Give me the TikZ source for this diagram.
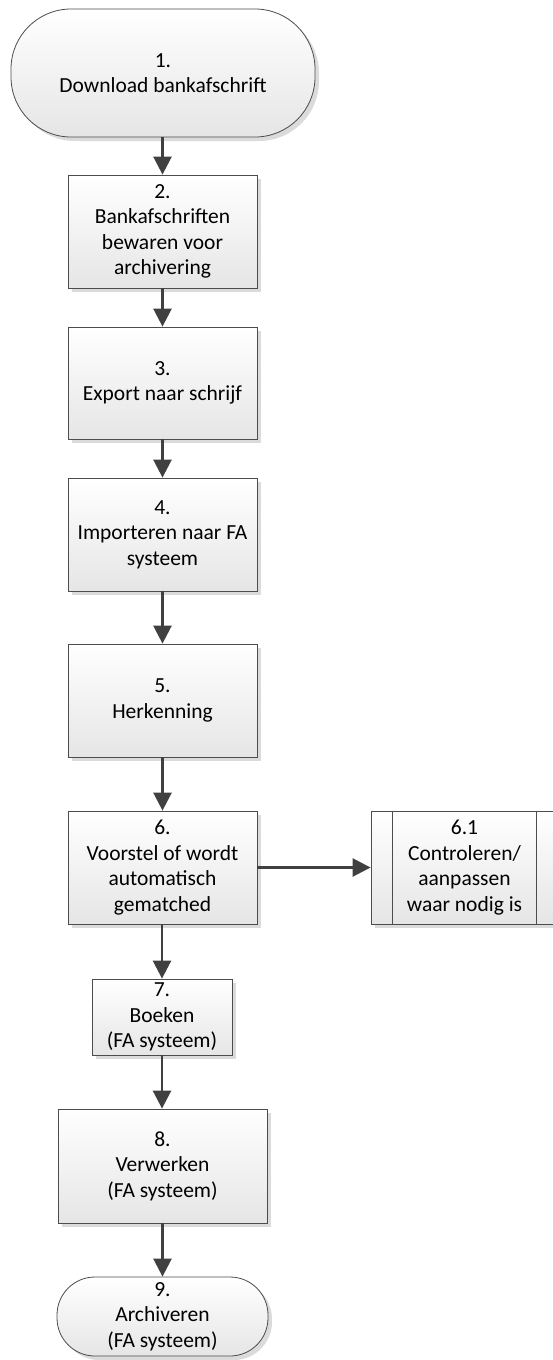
\documentclass[tikz,border=0pt]{standalone}
\usepackage{fontspec}
\setmainfont{Carlito}
\usetikzlibrary{shadows,arrows.meta}
\tikzset{
  shp/.style={draw=black!70, line width=0.8pt, top color=white, bottom color=black!10,
    drop shadow={shadow xshift=4pt, shadow yshift=-4pt, fill=black!14, opacity=1},
    align=center, font=\fontsize{21.5}{25.5}\selectfont, inner sep=0pt},
  proc/.style={shp, rectangle},
  term/.style={shp, rectangle, rounded corners=#1},
  arr/.style={draw=black!75, line width=2.6pt, -{Triangle[length=18pt,width=18pt]}},
  sub/.style={draw=black!70, line width=0.8pt}
}
\begin{document}
\begin{tikzpicture}[x=1pt,y=1pt]
\useasboundingbox (0,0) rectangle (552,-1360);
\node[term=60pt, minimum width=304pt, minimum height=128pt] (n1) at (163,-73) {1.\\Download bankafschrift};
\node[proc, minimum width=189pt, minimum height=113pt] (n2) at (162.5,-231.5) {2.\\Bankafschriften\\bewaren voor\\archivering};
\node[proc, minimum width=189pt, minimum height=112pt] (n3) at (162.5,-383) {3.\\Export naar schrijf};
\node[proc, minimum width=189pt, minimum height=113pt] (n4) at (162.5,-534.5) {4.\\Importeren naar FA\\systeem};
\node[proc, minimum width=189pt, minimum height=113pt] (n5) at (162.5,-700.5) {5.\\Herkenning};
\node[proc, minimum width=189pt, minimum height=113pt] (n6) at (162.5,-867.5) {6.\\Voorstel of wordt\\automatisch\\gematched};
\node[proc, minimum width=187pt, minimum height=113pt] (n61) at (464.5,-867.5) {6.1\\Controleren/\\aanpassen\\waar nodig is};
\draw[sub] ([xshift=22pt]n61.north west) -- ([xshift=22pt]n61.south west);
\draw[sub] ([xshift=-22pt]n61.north east) -- ([xshift=-22pt]n61.south east);
\node[proc, minimum width=140pt, minimum height=76pt] (n7) at (162,-1017) {7.\\Boeken\\(FA systeem)};
\node[proc, minimum width=209pt, minimum height=114pt] (n8) at (162.5,-1166) {8.\\Verwerken\\(FA systeem)};
\node[term=38pt, minimum width=211pt, minimum height=79pt] (n9) at (162.5,-1316.5) {9.\\Archiveren\\(FA systeem)};
\draw[arr] (n1.south -| n2.north) -- (n2.north);
\draw[arr] (n2) -- (n3);
\draw[arr] (n3) -- (n4);
\draw[arr] (n4) -- (n5);
\draw[arr] (n5) -- (n6);
\draw[arr] (n6.east) -- (n61.west);
\draw[arr] (n6.south -| n7.north) -- (n7.north);
\draw[arr] (n7.south) -- (n7.south |- n8.north);
\draw[arr] (n8) -- (n9);
\end{tikzpicture}
\end{document}
